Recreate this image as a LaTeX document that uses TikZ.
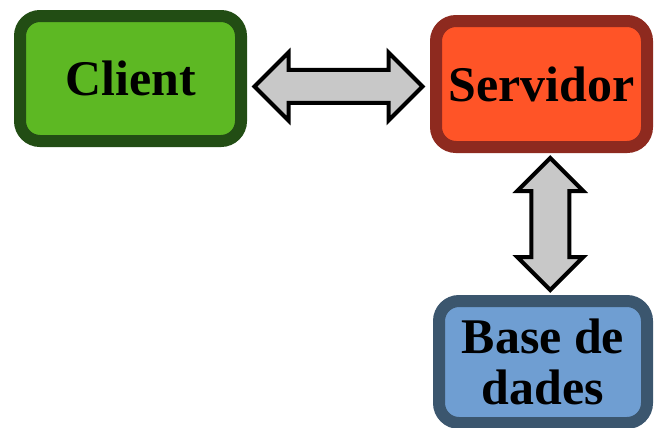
\documentclass[tikz,border=0pt]{standalone}
\usepackage{fontspec}
\setmainfont{Liberation Serif}
\usepackage{tikz}
\usetikzlibrary{positioning, calc, shapes.arrows}

\definecolor{clientfill}{RGB}{93,184,35}
\definecolor{clientline}{RGB}{34,77,20}
\definecolor{serverfill}{RGB}{255,84,39}
\definecolor{serverline}{RGB}{142,42,31}
\definecolor{dbfill}{RGB}{111,158,210}
\definecolor{dbline}{RGB}{59,86,110}
\definecolor{arrowfill}{RGB}{200,200,200}

\tikzset{
    block/.style={rectangle, rounded corners=0.5cm, line width=0.3cm, inner sep=0pt, align=center,
        font=\fontsize{35.5}{36}\selectfont\bfseries},
    link/.style={double arrow, draw=black, fill=arrowfill, line width=0.1cm, inner xsep=0pt}
}

\begin{document}
\begin{tikzpicture}
    \useasboundingbox (0,0) rectangle (16.35,-10.675);
    %boxes
    \node[block, draw=clientline, fill=clientfill, minimum width=5.525cm, minimum height=3.125cm]
        (client) at (3.2625,-1.9625) {Client};
    \node[block, draw=serverline, fill=serverfill, minimum width=5.275cm, minimum height=3.15cm]
        (server) at (13.5375,-2.1) {Servidor};
    \node[block, draw=dbline, fill=dbfill, minimum width=5.2cm, minimum height=3.05cm]
        (db) at (13.575,-9.05) {Base de\\dades};

    %arrows
    \node[link, inner ysep=0.3625cm, minimum height=4.2cm, minimum width=1.6cm,
        double arrow head extend=0.4375cm]
        (cs) at ($(client.east)!0.5!(server.west)+(0,-0.13)$) {};
    \node[link, rotate=90, inner ysep=0.425cm, minimum height=3.3cm, minimum width=1.55cm,
        double arrow head extend=0.35cm]
        (sd) at ($(server.south)!0.5!(db.north)+(0.2,0)$) {};
\end{tikzpicture}
\end{document}
